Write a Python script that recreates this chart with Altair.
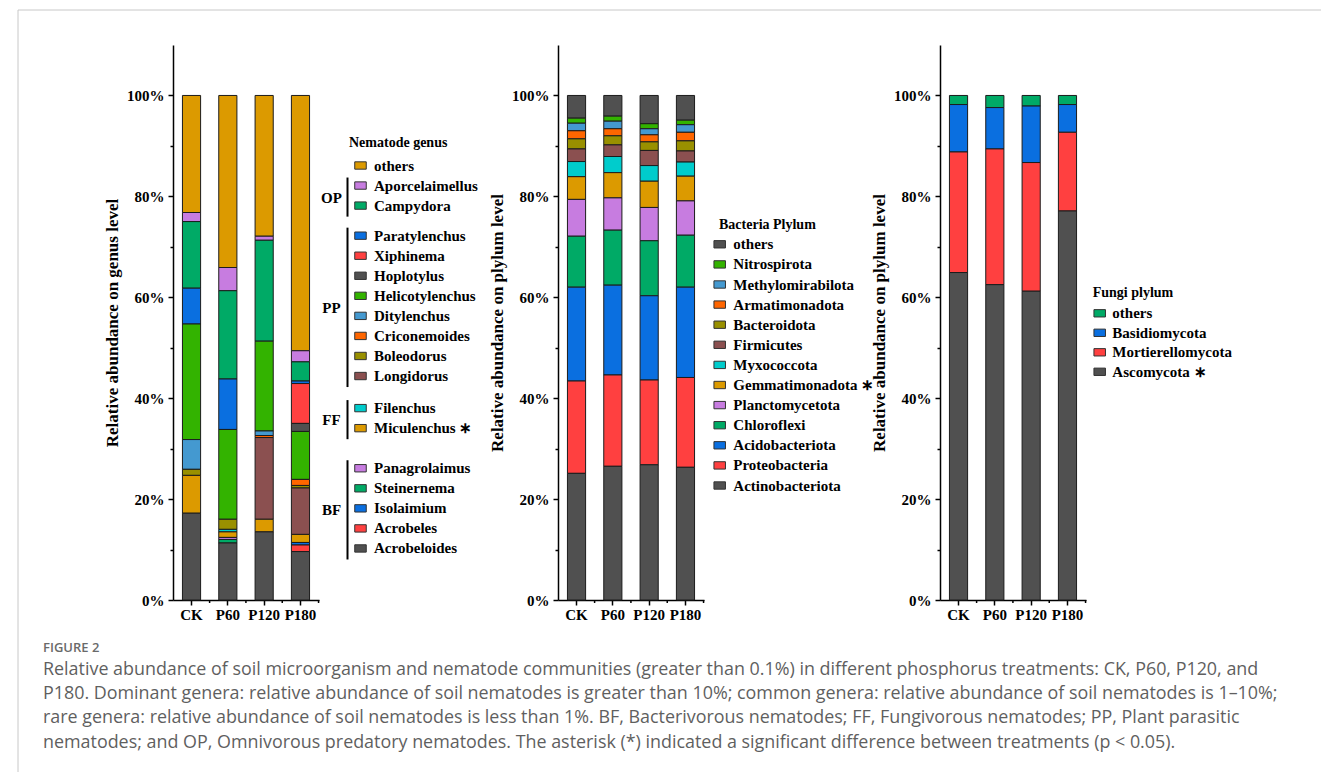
import altair as alt
import pandas as pd

TREATMENTS = ["CK", "P60", "P120", "P180"]

# ---- Nematode genera (legend order, top of the stack first) ----
NEM_GROUPS = [
    ("", ["others"]),
    ("OP", ["Aporcelaimellus", "Campydora"]),
    ("PP", ["Paratylenchus", "Xiphinema", "Hoplotylus", "Helicotylenchus",
            "Ditylenchus", "Criconemoides", "Boleodorus", "Longidorus"]),
    ("FF", ["Filenchus", "Miculenchus"]),
    ("BF", ["Panagrolaimus", "Steinernema", "Isolaimium", "Acrobeles", "Acrobeloides"]),
]
NEM_GAPS = [0.0, 0.0, 0.5, 0.6, 1.0]  # extra space before each group, in rows
NEM_COLORS = ["#DC9A00", "#C77CE0", "#00AA66", "#0A6FE0", "#FF4040", "#505050",
              "#33B300", "#4499D0", "#FF6600", "#999000", "#8B5050",
              "#00CCCC", "#DC9A00", "#C77CE0", "#00AA66", "#0A6FE0", "#FF4040", "#505050"]
NEM_CK = [23.2, 1.8, 13.2, 7.1, 0, 0, 22.9, 5.9, 0, 1.2, 0, 0, 7.5, 0, 0, 0, 0, 17.2]
NEM_P60 = [34.1, 4.6, 17.5, 10.0, 0, 0, 17.8, 0, 0, 2.0, 0, 0.5, 1.1, 0.4, 0.7, 0, 0, 11.3]
NEM_P120 = [27.9, 0.8, 20.0, 0, 0, 0, 17.8, 0.9, 0.4, 0, 16.2, 0, 2.5, 0, 0, 0, 0, 13.5]
NEM_P180 = [50.6, 2.2, 3.8, 0.5, 7.9, 1.6, 9.5, 0, 1.2, 0.5, 9.2, 0, 1.6, 0, 0, 0.5, 1.3, 9.6]

# ---- Bacteria phyla ----
BAC_NAMES = ["others", "Nitrospirota", "Methylomirabilota", "Armatimonadota", "Bacteroidota",
             "Firmicutes", "Myxococcota", "Gemmatimonadota", "Planctomycetota", "Chloroflexi",
             "Acidobacteriota", "Proteobacteria", "Actinobacteriota"]
BAC_COLORS = ["#505050", "#33B300", "#4499D0", "#FF6600", "#999000", "#8B5050", "#00CCCC",
              "#DC9A00", "#C77CE0", "#00AA66", "#0A6FE0", "#FF4040", "#505050"]
BAC_CK = [4.5, 1.0, 1.5, 1.6, 2.0, 2.5, 3.0, 4.5, 7.3, 10.1, 18.6, 18.3, 25.1]
BAC_P60 = [4.1, 1.0, 1.5, 1.4, 1.8, 2.3, 3.2, 5.0, 6.4, 10.9, 17.8, 18.1, 26.5]
BAC_P120 = [5.6, 1.0, 1.2, 1.4, 1.7, 3.0, 3.1, 5.2, 6.6, 10.9, 16.7, 16.8, 26.8]
BAC_P180 = [4.9, 0.9, 1.5, 1.7, 2.0, 2.2, 2.8, 4.9, 6.8, 10.3, 17.9, 17.8, 26.3]

# ---- Fungi phyla ----
FUN_NAMES = ["others", "Basidiomycota", "Mortierellomycota", "Ascomycota"]
FUN_COLORS = ["#00AA66", "#0A6FE0", "#FF4040", "#505050"]
FUN_CK = [1.8, 9.4, 23.9, 64.9]
FUN_P60 = [2.4, 8.2, 26.9, 62.5]
FUN_P120 = [2.1, 11.2, 25.5, 61.2]
FUN_P180 = [1.8, 5.5, 15.6, 77.1]

# taxa differing significantly between treatments
SIGNIFICANT = {"Miculenchus", "Gemmatimonadota", "Ascomycota"}

CAPTION_HEAD = "FIGURE 2"
CAPTION_LINES = [
    "Relative abundance of soil microorganism and nematode communities (greater than 0.1%) in different phosphorus treatments: CK, P60, P120, and",
    "P180. Dominant genera: relative abundance of soil nematodes is greater than 10%; common genera: relative abundance of soil nematodes is 1\u201310%;",
    "rare genera: relative abundance of soil nematodes is less than 1%. BF, Bacterivorous nematodes; FF, Fungivorous nematodes; PP, Plant parasitic",
    "nematodes; and OP, Omnivorous predatory nematodes. The asterisk (*) indicated a significant difference between treatments (p < 0.05).",
]

SERIF = "Liberation Serif"
PLOT_W, PLOT_H = 146, 555
Y_MAX = 110
X_SCALE = alt.Scale(paddingInner=0.5, paddingOuter=0.26)


def long_table(names, series):
    rows = []
    for t, vals in zip(TREATMENTS, series):
        for i, (n, v) in enumerate(zip(names, vals)):
            if v > 0:
                rows.append({"treatment": t, "taxon": n, "value": v, "rank": i})
    return pd.DataFrame(rows)


def bar_panel(names, colors, series, ytitle):
    df = long_table(names, series)
    bars = alt.Chart(df).mark_bar(stroke="#1c1c1c", strokeWidth=1).encode(
        x=alt.X("treatment:N", sort=TREATMENTS, scale=X_SCALE,
                axis=alt.Axis(title=None, labelAngle=0, tickSize=5, labelPadding=2)),
        y=alt.Y("value:Q", stack="zero",
                scale=alt.Scale(domain=[0, Y_MAX], nice=False),
                axis=alt.Axis(title=ytitle, values=list(range(0, 101, 10)),
                              labelExpr="datum.value % 20 == 0 ? datum.value + '%' : ''",
                              tickSize={"condition": {"test": "datum.value % 20 == 0", "value": 5}, "value": 3},
                              labelPadding=4, titlePadding=5, titleFontSize=17)),
        color=alt.Color("taxon:N", scale=alt.Scale(domain=names, range=colors), legend=None),
        order=alt.Order("rank:Q", sort="descending"),
    )
    # short ticks in the gaps between the bars (half a gap past each band's end)
    gap_ticks = alt.Chart(pd.DataFrame({"treatment": TREATMENTS})).mark_rule(
        color="black", strokeWidth=1.5, xOffset=9
    ).encode(
        x=alt.X("treatment:N", sort=TREATMENTS, scale=X_SCALE, bandPosition=1),
        y=alt.value(PLOT_H), y2=alt.value(PLOT_H + 3),
    )
    return alt.layer(bars, gap_ticks).properties(width=PLOT_W, height=PLOT_H)


def legend_panel(title, names, colors, slots, width, row0, dy, sw_x, lab_x, title_x, title_dy,
                 groups=None):
    # row0: pixel offset of the first row below the panel top; dy: row pitch
    yscale = alt.Scale(domain=[-row0 / dy, (PLOT_H - row0) / dy], reverse=True,
                       nice=False, zero=False)
    labels = [n + " \u2217" if n in SIGNIFICANT else n for n in names]
    df = pd.DataFrame({"taxon": names, "label": labels, "slot": slots})
    ysl = alt.Y("slot:Q", scale=yscale, axis=None)
    sw = alt.Chart(df).mark_point(
        shape="M-0.72,-0.46H0.72V0.46H-0.72Z", size=256, filled=True, opacity=1,
        stroke="#333333", strokeWidth=1,
    ).encode(
        x=alt.value(sw_x), y=ysl,
        fill=alt.Fill("taxon:N", scale=alt.Scale(domain=names, range=colors), legend=None),
    )
    txt = alt.Chart(df).mark_text(
        align="left", baseline="middle", font=SERIF, fontWeight="bold", fontSize=15, color="black"
    ).encode(x=alt.value(lab_x), y=ysl, text="label:N")
    tdf = pd.DataFrame({"label": [title], "slot": [title_dy / dy]})
    ttl = alt.Chart(tdf).mark_text(
        align="left", baseline="middle", font=SERIF, fontWeight="bold", fontSize=14, color="black"
    ).encode(x=alt.value(title_x), y=ysl, text="label:N")
    layers = [sw, txt, ttl]
    if groups is not None:
        gdf = pd.DataFrame(groups)
        br = alt.Chart(gdf).mark_rule(color="black", strokeWidth=2).encode(
            x=alt.value(28.5), y=alt.Y("start:Q", scale=yscale, axis=None), y2="end:Q")
        gl = alt.Chart(gdf).mark_text(
            align="center", baseline="middle", font=SERIF, fontWeight="bold", fontSize=15, color="black"
        ).encode(x=alt.value(12.5), y=alt.Y("mid:Q", scale=yscale, axis=None), text="group:N")
        layers += [br, gl]
    return alt.layer(*layers).properties(width=width, height=PLOT_H)


# nematode legend slots with gaps between feeding groups
nem_names, nem_slots, nem_group_rows = [], [], []
s = 0.0
for (g, members), gap in zip(NEM_GROUPS, NEM_GAPS):
    s += gap
    first = s
    for m in members:
        nem_names.append(m)
        nem_slots.append(s)
        s += 1
    if g:
        last = s - 1
        nem_group_rows.append({"group": g, "start": first - 0.4, "end": last + 0.55,
                               "mid": (first + last) / 2 + 0.1})

nem_bars = bar_panel(nem_names, NEM_COLORS, [NEM_CK, NEM_P60, NEM_P120, NEM_P180],
                     "Relative abundance on genus level")
bac_bars = bar_panel(BAC_NAMES, BAC_COLORS, [BAC_CK, BAC_P60, BAC_P120, BAC_P180],
                     "Relative abundance on plylum level")
fun_bars = bar_panel(FUN_NAMES, FUN_COLORS, [FUN_CK, FUN_P60, FUN_P120, FUN_P180],
                     "Relative abundance on plylum level")

nem_leg = legend_panel("Nematode genus", nem_names, NEM_COLORS, nem_slots, 239,
                       120.5, 20.05, 41.5, 55, 30, -23, groups=nem_group_rows)
bac_leg = legend_panel("Bacteria Plylum", BAC_NAMES, BAC_COLORS, list(range(len(BAC_NAMES))), 236,
                       199.3, 20.1, 15.7, 29.3, 15, -19.5)
fun_leg = legend_panel("Fungi plylum", FUN_NAMES, FUN_COLORS, list(range(len(FUN_NAMES))), 160,
                       268.3, 19.5, 13.7, 26.3, 6.7, -20)

# caption block and figure frame: a 1-px wide view placed before the first panel,
# its marks drawn below and around the panels (offsets relative to that view)
CAP_X = -129
LINE0, LINE_DY = 624.5, 24.4
cap_scale = alt.Scale(domain=[-LINE0 / LINE_DY, (PLOT_H - LINE0) / LINE_DY], reverse=True,
                      nice=False, zero=False)
cap_df = pd.DataFrame({"line": list(range(len(CAPTION_LINES))), "text": CAPTION_LINES})
cap_lines = alt.Chart(cap_df).mark_text(
    align="left", baseline="middle", font="Open Sans", fontSize=17.9, color="#5f5f5f"
).encode(x=alt.value(CAP_X), y=alt.Y("line:Q", scale=cap_scale, axis=None), text="text:N")
cap_head = alt.Chart(pd.DataFrame({"text": [CAPTION_HEAD]})).mark_text(
    align="left", baseline="middle", font="Open Sans", fontSize=13, fontWeight=600, color="#6a6a6a"
).encode(x=alt.value(CAP_X), y=alt.value(603), text="text:N")
one = pd.DataFrame({"k": [0]})
frame_top = alt.Chart(one).mark_rule(color="#c8c8c8", strokeWidth=1).encode(
    x=alt.value(-154), x2=alt.value(1149), y=alt.value(-35))
frame_left = alt.Chart(one).mark_rule(color="#c8c8c8", strokeWidth=1).encode(
    x=alt.value(-154), y=alt.value(-35), y2=alt.value(727))
caption = alt.layer(frame_top, frame_left, cap_head, cap_lines).properties(width=1, height=PLOT_H)

chart = alt.hconcat(caption, nem_bars, nem_leg, bac_bars, bac_leg, fun_bars, fun_leg,
                    spacing=0, bounds="flush").resolve_scale(
    x="independent", y="independent", color="independent", fill="independent"
).properties(
    padding={"left": 17, "top": 9, "right": 0, "bottom": 0},
    autosize=alt.AutoSizeParams(type="pad"),
).configure_view(stroke=None).configure_axis(
    labelFont=SERIF, labelFontWeight="bold", labelFontSize=15, labelColor="black",
    titleFont=SERIF, titleFontWeight="bold", titleColor="black",
    domainColor="black", domainWidth=1.5, tickColor="black", tickWidth=1.5, grid=False,
)

chart.save("out.html", embed_options={"renderer": "svg", "actions": False})
